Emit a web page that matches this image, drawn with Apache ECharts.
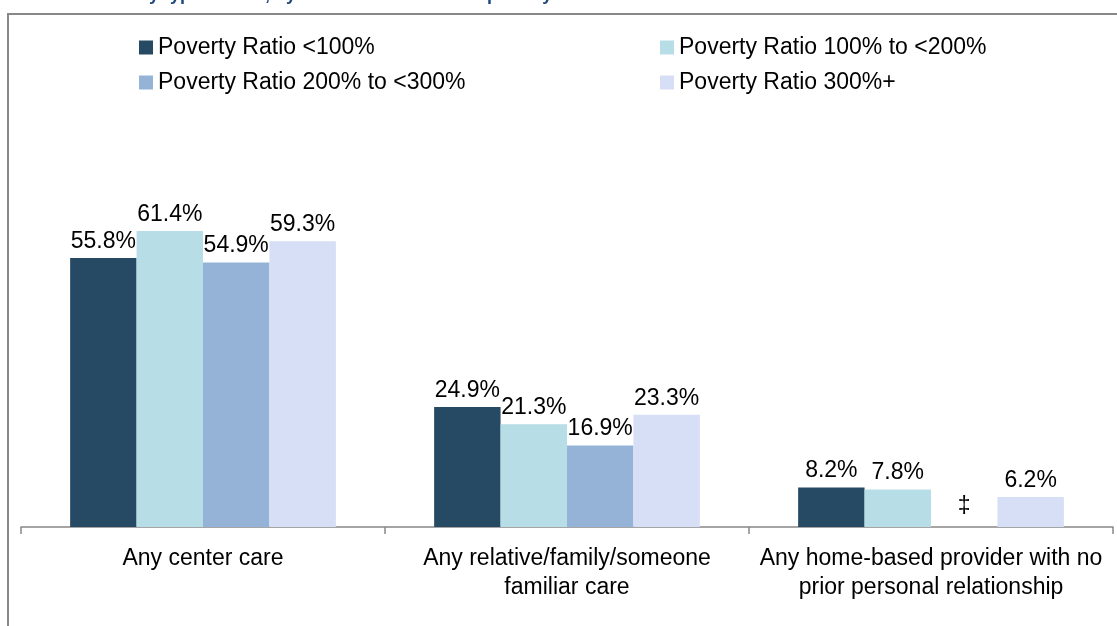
<!DOCTYPE html>
<html>
<head>
<meta charset="utf-8">
<script src="https://cdn.jsdelivr.net/npm/echarts@6/dist/echarts.min.js"></script>
<style>
html,body{margin:0;padding:0;background:#fff;}
#chart{width:1117px;height:626px;}
</style>
</head>
<body>
<div id="chart"></div>
<script>
const categories = [
  "Any center care",
  "Any relative/family/someone\nfamiliar care",
  "Any home-based provider with no\nprior personal relationship"
];
const seriesNames = [
  "Poverty Ratio <100%",
  "Poverty Ratio 100% to <200%",
  "Poverty Ratio 200% to <300%",
  "Poverty Ratio 300%+"
];
const povertyUnder100 = [55.8, 24.9, 8.2];
const poverty100to200 = [61.4, 21.3, 7.8];
const poverty200to300 = [54.9, 16.9, null];
const poverty300plus = [59.3, 23.3, 6.2];
const suppressedMark = "‡";
const titleText = "Scheduled care by type of care, by household income to poverty ratio";

const colors = ["#264A63", "#B7DDE6", "#95B3D7", "#D6DFF5"];
const FONT = "'Liberation Sans', Arial, sans-serif";

const allValues = [povertyUnder100, poverty100to200, poverty200to300, poverty300plus];

function buildData(arr) {
  return arr.map(v => v === null
    ? { value: 0, label: { show: true, formatter: suppressedMark, position: 'top', distance: 9 } }
    : v);
}

const chart = echarts.init(document.getElementById('chart'), null, { renderer: 'canvas' });

const series = seriesNames.map((name, i) => ({
  name: name,
  type: 'bar',
  data: buildData(allValues[i]),
  barGap: '0%',
  barCategoryGap: '27%',
  itemStyle: { color: colors[i] },
  label: {
    show: true,
    position: 'top',
    distance: 5,
    color: '#000',
    fontSize: 23,
    fontFamily: FONT,
    formatter: p => p.value.toFixed(1) + '%'
  },
  emphasis: { disabled: true }
}));

chart.setOption({
  animation: false,
  backgroundColor: '#fff',
  textStyle: { fontFamily: FONT },
  graphic: [
    {
      type: 'rect',
      shape: { x: 8, y: 14, width: 1200, height: 700 },
      style: { fill: 'none', stroke: '#888888', lineWidth: 2 },
      silent: true,
      z: -1
    },
    {
      type: 'text',
      left: 0,
      top: -14,
      style: {
        text: titleText,
        fill: '#1F497D',
        font: "bold 18px 'Liberation Sans', Arial, sans-serif"
      },
      silent: true
    }
  ],
  legend: [
    {
      data: [seriesNames[0], seriesNames[2]],
      orient: 'vertical',
      left: 139,
      top: 36,
      padding: 0,
      itemWidth: 14,
      itemHeight: 14,
      itemGap: 12,
      icon: 'rect',
      selectedMode: false,
      textStyle: { fontSize: 23, color: '#000', fontFamily: FONT }
    },
    {
      data: [seriesNames[1], seriesNames[3]],
      orient: 'vertical',
      left: 660,
      top: 36,
      padding: 0,
      itemWidth: 14,
      itemHeight: 14,
      itemGap: 12,
      icon: 'rect',
      selectedMode: false,
      textStyle: { fontSize: 23, color: '#000', fontFamily: FONT }
    }
  ],
  grid: { left: 21, right: 4, top: 45, bottom: 99, containLabel: false },
  xAxis: {
    type: 'category',
    data: categories,
    axisLine: { show: true, lineStyle: { color: '#888888', width: 1.5 } },
    axisTick: { show: true, length: 7, lineStyle: { color: '#888888', width: 1.5 } },
    axisLabel: {
      color: '#000',
      fontSize: 23,
      fontFamily: FONT,
      lineHeight: 29,
      margin: 17,
      interval: 0
    }
  },
  yAxis: {
    type: 'value',
    min: 0,
    max: 100,
    show: false,
    splitLine: { show: false }
  },
  series: series
});
</script>
</body>
</html>
